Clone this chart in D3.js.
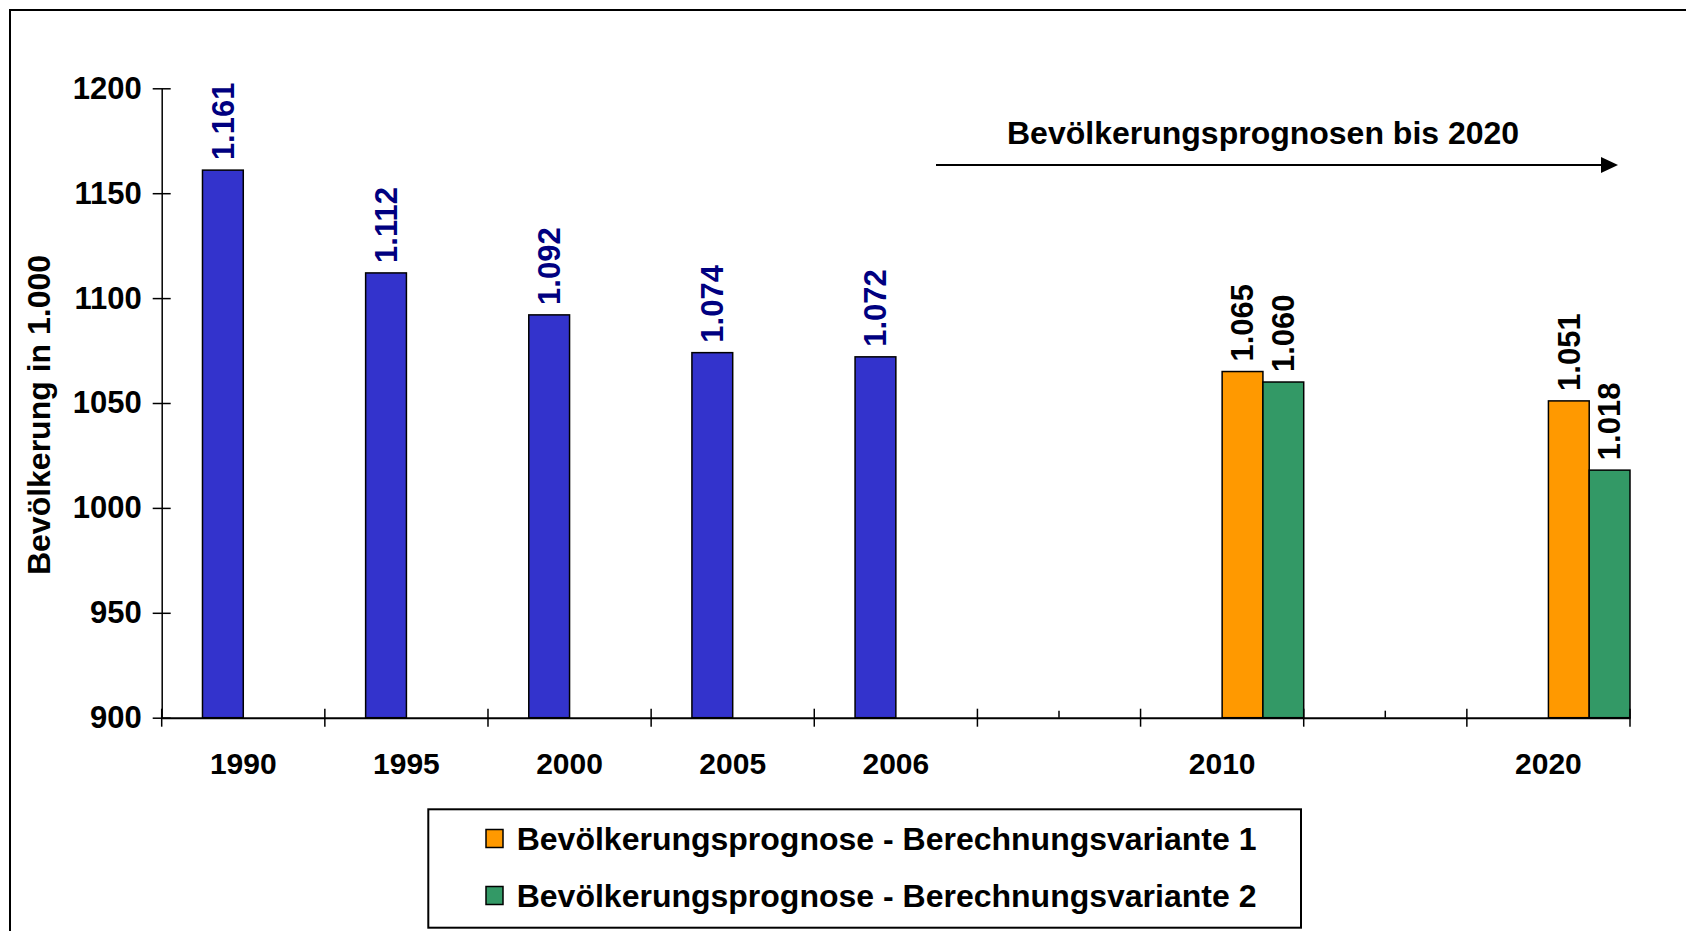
<!DOCTYPE html>
<html>
<head>
<meta charset="utf-8">
<title>Bevölkerung in 1.000</title>
<script src="https://d3js.org/d3.v7.min.js"></script>
<style>
    body { margin: 0; background: #fff; }
    svg { display: block; font-family: "Liberation Sans", Arial, sans-serif; font-weight: bold; }
</style>
</head>
<body>
<svg id="chart" width="1686" height="931"></svg>

<script>
    // Kategorien der x-Achse (leere Einträge = Lücken zwischen den Jahren)
    var jahre = ["1990", "1995", "2000", "2005", "2006", "", "2010", "", "2020"];

    // Werte in 1.000
    var bestand   = [1161, 1112, 1092, 1074, 1072, null, null, null, null];
    var variante1 = [null, null, null, null, null, null, 1065, null, 1051];
    var variante2 = [null, null, null, null, null, null, 1060, null, 1018];

    // Achsenbeschriftung
    var yTicks = [900, 950, 1000, 1050, 1100, 1150, 1200];
    var achsenTitel = "Bevölkerung in 1.000";
    var pfeilText = "Bevölkerungsprognosen bis 2020";
    var legendeTexte = [
        "Bevölkerungsprognose - Berechnungsvariante 1",
        "Bevölkerungsprognose - Berechnungsvariante 2"
    ];

    var reihen = [
        { key: "bestand", werte: bestand,   farbe: "#3333cc", textFarbe: "#000080" },
        { key: "v1",      werte: variante1, farbe: "#ff9900", textFarbe: "#000000" },
        { key: "v2",      werte: variante2, farbe: "#339966", textFarbe: "#000000" }
    ];

    var svg = d3.select("#chart");
    var de = d3.formatLocale({ decimal: ",", thousands: ".", grouping: [3], currency: ["", " €"] });
    var wertFormat = de.format(",d");

    // Rahmen um die ganze Grafik
    svg.append("rect")
        .attr("x", 10).attr("y", 10)
        .attr("width", 1700).attr("height", 950)
        .style("fill", "none").style("stroke", "#000").style("stroke-width", 2);

    // Skalen
    var x0 = d3.scaleBand()
        .domain(d3.range(jahre.length))
        .range([161.7, 1630])
        .padding(0);

    // vier Plätze je Kategorie, der erste bleibt leer
    var x1 = d3.scaleBand()
        .domain(["leer", "bestand", "v1", "v2"])
        .range([0, x0.bandwidth()]);

    var y = d3.scaleLinear()
        .domain([900, 1200])
        .range([717.7, 88.3]);

    // Balken
    reihen.forEach(function(r) {
        var punkte = r.werte
            .map(function(v, i) { return { i: i, v: v }; })
            .filter(function(d) { return d.v != null; });

        svg.append("g")
            .selectAll("rect")
            .data(punkte)
            .enter().append("rect")
            .attr("x", function(d) { return x0(d.i) + x1(r.key); })
            .attr("y", function(d) { return y(d.v); })
            .attr("width", x1.bandwidth())
            .attr("height", function(d) { return y(900) - y(d.v); })
            .style("fill", r.farbe)
            .style("stroke", "#000")
            .style("stroke-width", 1.5);

        // Werte senkrecht über den Balken
        svg.append("g")
            .selectAll("text")
            .data(punkte)
            .enter().append("text")
            .attr("transform", function(d) {
                return "translate(" + (x0(d.i) + x1(r.key) + x1.bandwidth() / 2) + "," + (y(d.v) - 10) + ") rotate(-90)";
            })
            .attr("dy", "0.35em")
            .style("font-size", "31px")
            .style("fill", r.textFarbe)
            .text(function(d) { return wertFormat(d.v); });
    });

    // y-Achse
    var yAchse = svg.append("g")
        .attr("transform", "translate(161.7,0)")
        .call(d3.axisLeft(y).tickValues(yTicks).tickSize(0).tickSizeOuter(0).tickPadding(20).tickFormat(d3.format("d")));
    yAchse.select(".domain").style("stroke-width", 1.5);
    yAchse.selectAll(".tick text").style("font-size", "31px").style("fill", "#000");
    yAchse.selectAll(".tick").append("line")
        .attr("x1", -9).attr("x2", 9)
        .style("stroke", "#000").style("stroke-width", 1.5);

    // x-Achse
    var xAchse = svg.append("g")
        .attr("transform", "translate(0," + y(900) + ")")
        .call(d3.axisBottom(x0).tickSize(0).tickSizeOuter(0).tickPadding(35).tickFormat(function(i) { return jahre[i]; }));
    xAchse.select(".domain").style("stroke-width", 2);
    xAchse.selectAll(".tick text").style("font-size", "30px").style("fill", "#000");

    // Teilstriche an den Kategoriegrenzen
    var grenzen = d3.range(jahre.length).map(function(i) { return x0(i); }).concat([x0.range()[1]]);
    xAchse.append("g")
        .selectAll("line")
        .data(grenzen)
        .enter().append("line")
        .attr("x1", function(d) { return d; }).attr("x2", function(d) { return d; })
        .attr("y1", -9).attr("y2", 9)
        .style("stroke", "#000").style("stroke-width", 1.5);

    // kleine Striche in den leeren Kategorien
    xAchse.append("g")
        .selectAll("line")
        .data(d3.range(jahre.length).filter(function(i) { return jahre[i] === ""; }))
        .enter().append("line")
        .attr("x1", function(i) { return x0(i) + x0.bandwidth() / 2; })
        .attr("x2", function(i) { return x0(i) + x0.bandwidth() / 2; })
        .attr("y1", -7).attr("y2", 0)
        .style("stroke", "#000").style("stroke-width", 1.5);

    // Achsentitel
    svg.append("text")
        .attr("transform", "translate(39,415) rotate(-90)")
        .attr("text-anchor", "middle")
        .attr("dy", "0.35em")
        .style("font-size", "32px")
        .text(achsenTitel);

    // Pfeil mit Beschriftung
    svg.append("text")
        .attr("x", 1007).attr("y", 144)
        .style("font-size", "32px")
        .text(pfeilText);
    svg.append("line")
        .attr("x1", 936).attr("x2", 1603)
        .attr("y1", 165).attr("y2", 165)
        .style("stroke", "#000").style("stroke-width", 2);
    svg.append("path")
        .attr("d", "M1601,157L1618,165L1601,173Z")
        .style("fill", "#000");

    // Legende
    var legende = svg.append("g");
    legende.append("rect")
        .attr("x", 428.3).attr("y", 809.3)
        .attr("width", 872.7).attr("height", 118.4)
        .style("fill", "#fff").style("stroke", "#000").style("stroke-width", 2);

    var eintraege = legende.selectAll("g.eintrag")
        .data(legendeTexte)
        .enter().append("g")
        .attr("class", "eintrag")
        .attr("transform", function(d, i) { return "translate(0," + (839 + i * 57) + ")"; });
    eintraege.append("rect")
        .attr("x", 486).attr("y", -9.5)
        .attr("width", 17).attr("height", 18)
        .style("fill", function(d, i) { return reihen[i + 1].farbe; })
        .style("stroke", "#000").style("stroke-width", 1.5);
    eintraege.append("text")
        .attr("x", 516.7)
        .attr("dy", "0.35em")
        .style("font-size", "32px")
        .text(function(d) { return d; });
</script>
</body>
</html>
